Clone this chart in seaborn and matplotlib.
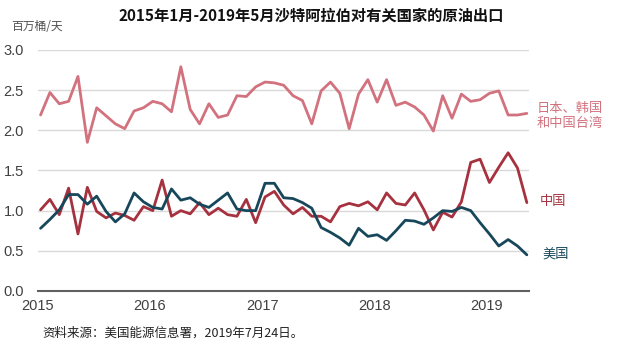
import numpy as np
import pandas as pd
import matplotlib
matplotlib.use("Agg")
import matplotlib.pyplot as plt
import seaborn as sns

# Monthly data, Jan 2015 - May 2019 (million barrels/day)
jkt = [2.19, 2.47, 2.33, 2.36, 2.67, 1.85, 2.28, 2.18, 2.08, 2.02, 2.24, 2.28,
       2.36, 2.33, 2.23, 2.79, 2.26, 2.08, 2.33, 2.16, 2.19, 2.43, 2.42, 2.54,
       2.60, 2.59, 2.56, 2.43, 2.37, 2.08, 2.49, 2.60, 2.46, 2.02, 2.45, 2.63,
       2.35, 2.63, 2.31, 2.35, 2.29, 2.19, 1.99, 2.43, 2.15, 2.45, 2.36, 2.38,
       2.46, 2.49, 2.19, 2.19, 2.21]
china = [1.01, 1.14, 0.95, 1.28, 0.71, 1.29, 0.99, 0.91, 0.97, 0.94, 0.88, 1.05,
         1.00, 1.38, 0.93, 1.00, 0.96, 1.10, 0.95, 1.03, 0.95, 0.93, 1.14, 0.85,
         1.17, 1.24, 1.07, 0.96, 1.04, 0.93, 0.93, 0.86, 1.05, 1.09, 1.06, 1.11,
         1.01, 1.22, 1.09, 1.07, 1.22, 1.01, 0.76, 0.98, 0.92, 1.11, 1.60, 1.64,
         1.35, 1.54, 1.72, 1.53, 1.10]
usa = [0.78, 0.89, 1.01, 1.20, 1.20, 1.08, 1.18, 0.99, 0.86, 0.96, 1.22, 1.11,
       1.04, 1.02, 1.27, 1.13, 1.16, 1.08, 1.04, 1.13, 1.22, 1.02, 1.00, 1.00,
       1.34, 1.34, 1.16, 1.15, 1.10, 1.03, 0.79, 0.73, 0.66, 0.57, 0.78, 0.68,
       0.70, 0.63, 0.75, 0.88, 0.87, 0.83, 0.91, 1.00, 0.99, 1.04, 1.00, 0.85,
       0.71, 0.56, 0.64, 0.56, 0.45]
series_names = ["日本、韩国\n和中国台湾", "中国", "美国"]
years = [2015, 2016, 2017, 2018, 2019]
yticks = [0.0, 0.5, 1.0, 1.5, 2.0, 2.5, 3.0]

colors = ["#d2727e", "#a6313f", "#17475a"]

n = len(jkt)
xpos = 2015 + (np.arange(n) + 0.3) / 12.0
df = pd.concat([
    pd.DataFrame({"x": xpos, "v": vals, "s": name})
    for name, vals in zip(series_names, [jkt, china, usa])
])

sns.set_theme(style="white")
plt.rcParams["font.family"] = ["Noto Sans CJK SC", "DejaVu Sans"]

fig = plt.figure(figsize=(6.4, 3.54), dpi=100)
ax = fig.add_axes([0.059, 0.178, 0.768, 0.681])

sns.lineplot(data=df, x="x", y="v", hue="s", palette=colors, linewidth=2.0,
             legend=False, ax=ax, sort=False)

tickfont = ["Liberation Sans", "DejaVu Sans"]
ax.set_xlim(2015, 2019.38)
ax.set_ylim(0, 3.0)
ax.set_yticks(yticks)
ax.set_yticklabels([f"{t:.1f}" for t in yticks], color="#404040", fontsize=10.5,
                   family=tickfont)
ax.set_xticks(years)
ax.set_xticklabels([str(y) for y in years], color="#404040", fontsize=10.5,
                   family=tickfont)
ax.set_xlabel("")
ax.set_ylabel("")
for y in yticks[1:]:
    ax.axhline(y, color="#d9d9d9", linewidth=1.0, zorder=0)
for sp in ["top", "right", "left"]:
    ax.spines[sp].set_visible(False)
ax.spines["bottom"].set_color("#606060")
ax.spines["bottom"].set_linewidth(1.5)
ax.tick_params(axis="x", direction="in", length=5, width=1.2, color="#606060", pad=6)
ax.tick_params(axis="y", length=0, pad=10)

fig.text(0.487, 0.955, "2015年1月-2019年5月沙特阿拉伯对有关国家的原油出口",
         ha="center", va="center", fontsize=11, fontweight="bold", color="#111111")
fig.text(0.018, 0.925, "百万桶/天", ha="left", va="center", fontsize=8.5, color="#505050")
fig.text(0.066, 0.06, "资料来源：美国能源信息署，2019年7月24日。", ha="left", va="center",
         fontsize=9, color="#222222")

fig.text(537 / 640, 1 - 116 / 354, "日本、韩国\n和中国台湾", ha="left", va="center",
         fontsize=9.5, color=colors[0], linespacing=1.3)
fig.text(540 / 640, 1 - 201 / 354, "中国", ha="left", va="center", fontsize=9.5, color=colors[1])
fig.text(542 / 640, 1 - 254 / 354, "美国", ha="left", va="center", fontsize=9.5, color=colors[2])

fig.savefig("out.png", dpi=100)
